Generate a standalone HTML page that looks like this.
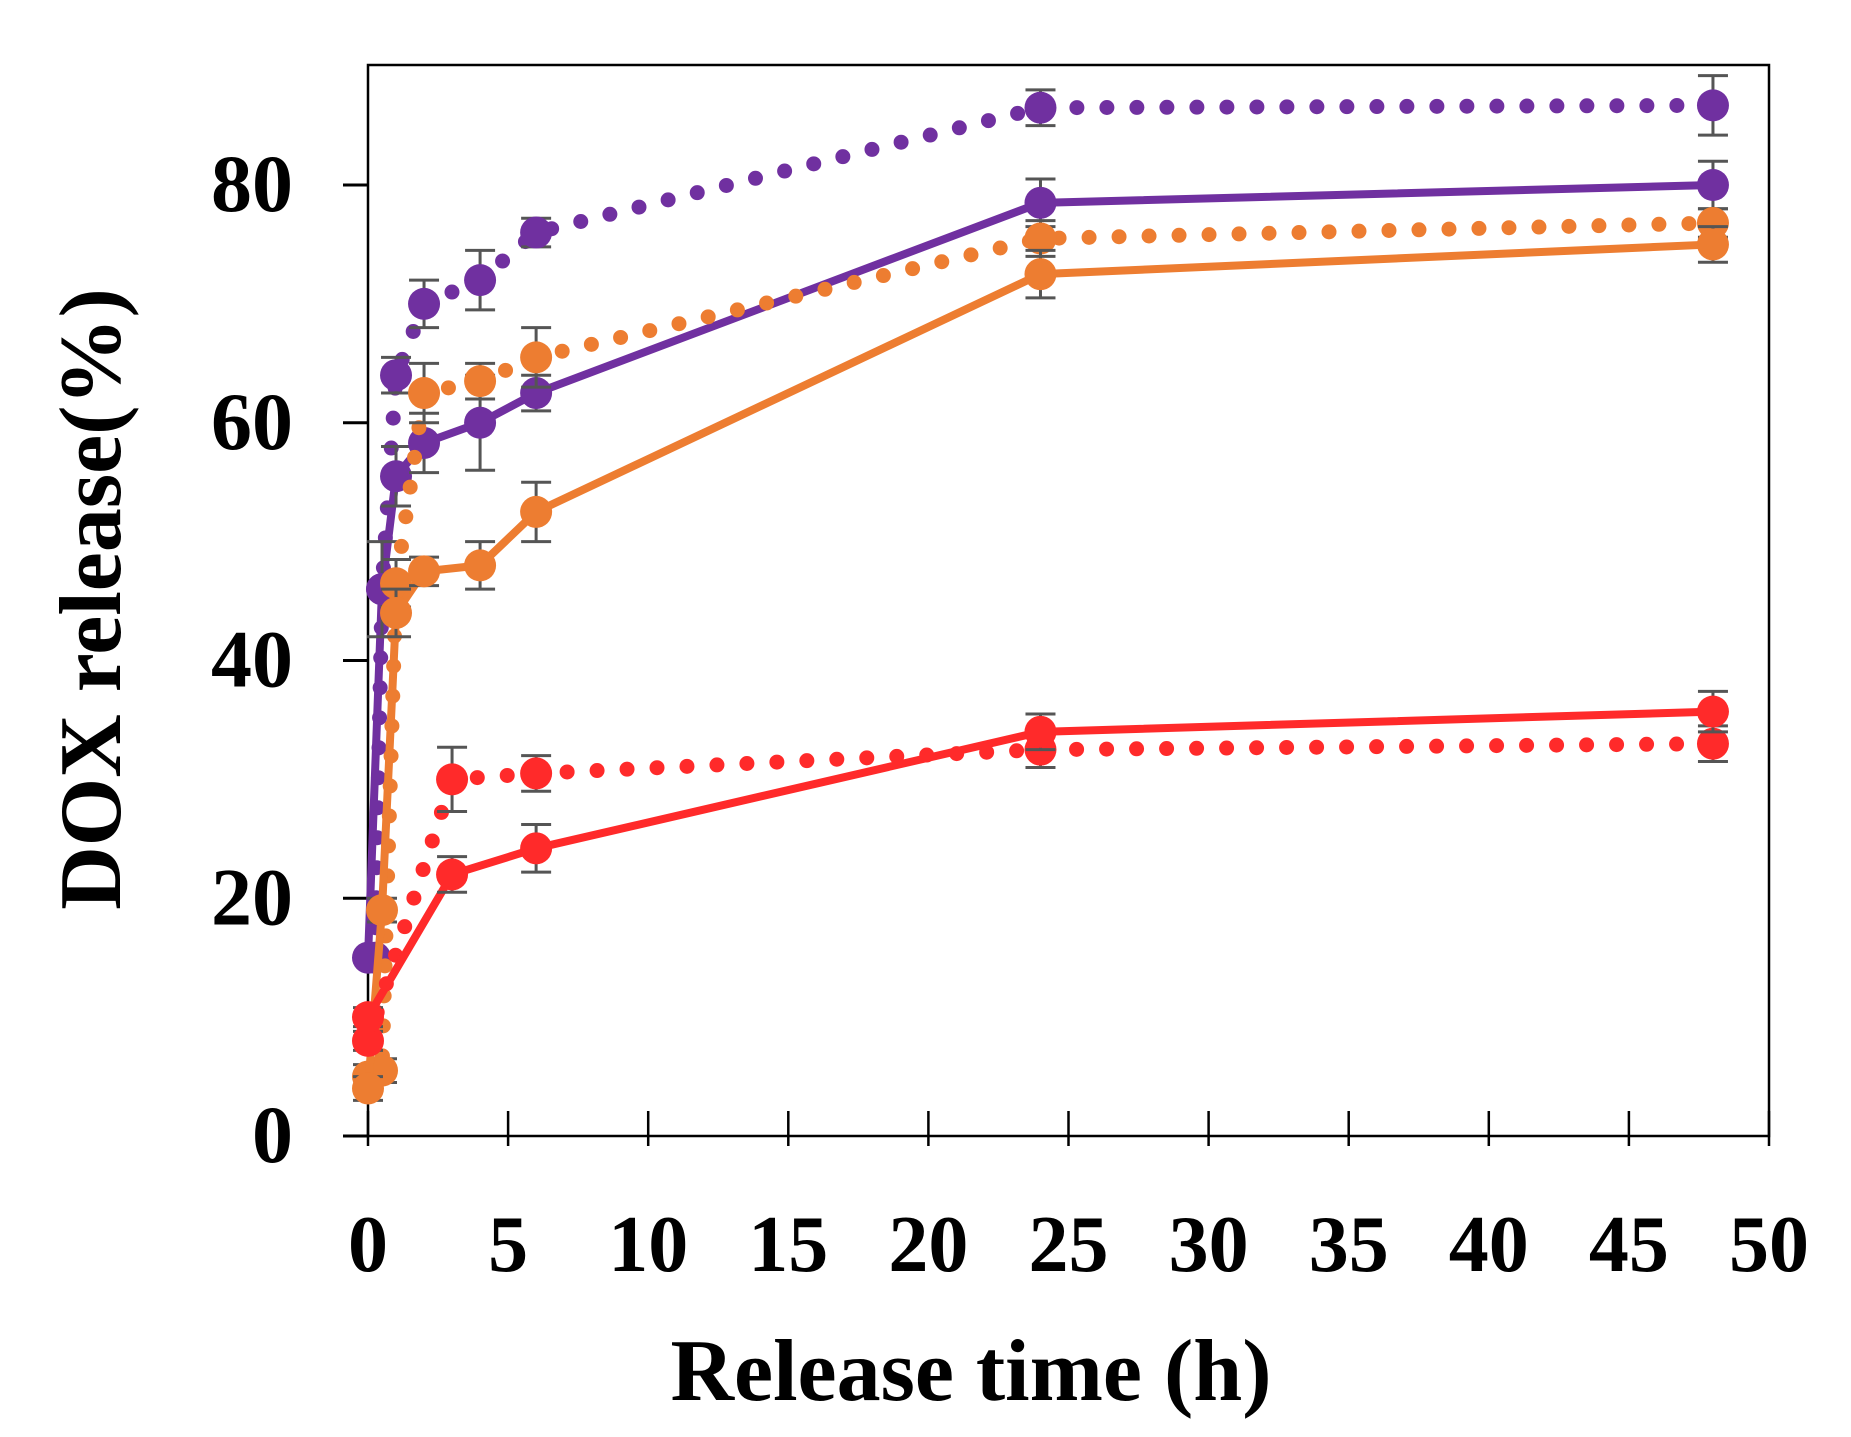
<!DOCTYPE html><html><head><style>body{margin:0;background:#fff}svg{display:block}</style></head><body>
<svg id="s" width="1851" height="1437" viewBox="0 0 1851 1437" xmlns="http://www.w3.org/2000/svg" font-family="Liberation Serif, serif" font-weight="bold"></svg>
<script>
const L=368,R=1769,T=65,B=1136;
const X=v=>L+v*(R-L)/50, Y=v=>B-v*(B-185)/80;
let h='';
h+=`<rect x="${L}" y="${T}" width="${R-L}" height="${B-T}" fill="none" stroke="#000" stroke-width="2.5"/>`;
for(let v=0;v<=80;v+=20){h+=`<line x1="${L-25}" x2="${L}" y1="${Y(v)}" y2="${Y(v)}" stroke="#000" stroke-width="3"/><text x="${L-75}" y="${Y(v)+26}" font-size="82" text-anchor="end">${v}</text>`;}
for(let v=0;v<=50;v+=5){h+=`<line x1="${X(v)}" x2="${X(v)}" y1="${B-25}" y2="${B+10}" stroke="#000" stroke-width="2.5"/><text x="${X(v)}" y="${B+135}" font-size="80" text-anchor="middle">${v}</text>`;}
h+=`<text x="971" y="1400" font-size="88" text-anchor="middle">Release time (h)</text>`;
h+=`<text transform="translate(120,599) rotate(-90)" font-size="88" text-anchor="middle">DOX release(%)</text>`;
const S=[
 ['#7030a0',1,[[0.25,15,0],[0.5,46,0],[1,64,1.5],[2,70,2],[4,72,2.5],[6,76,1.2],[24,86.5,1.5],[48,86.7,2.5]]],
 ['#7030a0',0,[[0,15,0],[0.5,46,4],[1,55.5,2.5],[2,58.3,2.5],[4,60,4],[6,62.5,1.5],[24,78.5,2],[48,80,2]]],
 ['#ed7d31',1,[[0,5,1],[0.5,5.5,1],[1,46.5,2],[2,62.5,2.5],[4,63.5,1.5],[6,65.5,2.5],[24,75.5,1.5],[48,76.8,1.2]]],
 ['#ed7d31',0,[[0,4,1],[0.5,19,1],[1,44,2],[2,47.5,1.2],[4,48,2],[6,52.5,2.5],[24,72.5,2],[48,75,1.5]]],
 ['#ff2a2a',1,[[0,8,0.8],[3,30,2.7],[6,30.5,1.5],[24,32.5,1.5],[48,33,1.5]]],
 ['#ff2a2a',0,[[0,10,0.8],[3,22,1.5],[6,24.2,2],[24,34,1.5],[48,35.7,1.7]]]
];
for(const [c,d,p] of S){
 const pts=p.map(q=>X(q[0])+','+Y(q[1])).join(' ');
 h+=d?`<polyline points="${pts}" fill="none" stroke="${c}" stroke-width="15" stroke-linecap="round" stroke-dasharray="0 30"/>`
     :`<polyline points="${pts}" fill="none" stroke="${c}" stroke-width="8" stroke-linejoin="round"/>`;
 for(const q of p){const x=X(q[0]),y=Y(q[1]);
  if(q[2]>0){const a=Y(q[1]+q[2]),b=Y(q[1]-q[2]);h+=`<path d="M${x},${a}V${b}M${x-15},${a}H${x+15}M${x-15},${b}H${x+15}" stroke="#555" stroke-width="3" fill="none"/>`;}
  h+=`<circle cx="${x}" cy="${y}" r="16" fill="${c}"/>`;}
}
document.getElementById('s').innerHTML=h;
</script></body></html>
